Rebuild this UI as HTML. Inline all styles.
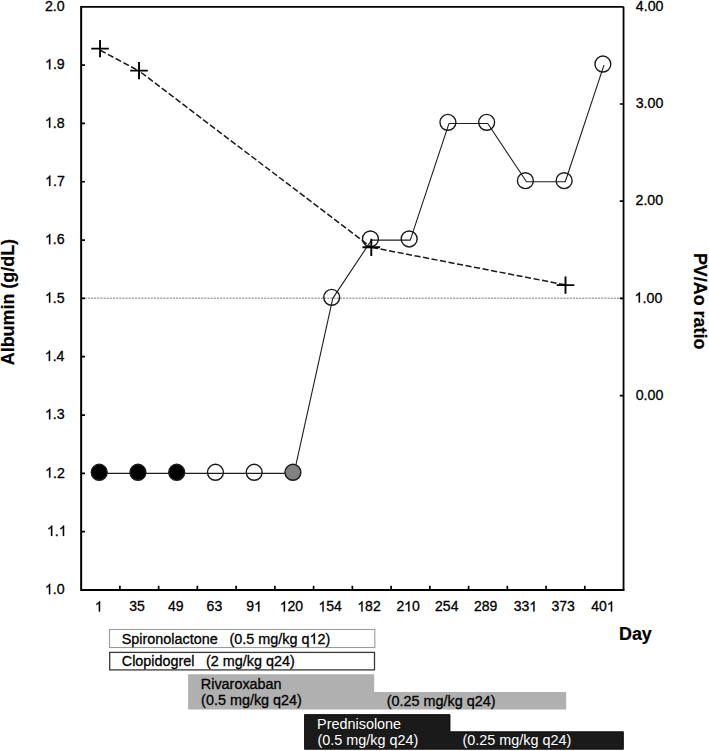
<!DOCTYPE html><html><head><meta charset="utf-8"><style>html,body{margin:0;padding:0;background:#fff;width:709px;height:751px;overflow:hidden}svg{display:block;font-family:"Liberation Sans",sans-serif}</style></head><body>
<svg width="709" height="751" viewBox="0 0 709 751">
<rect width="709" height="751" fill="#fff"/>
<line x1="82.65" y1="298.3" x2="622.05" y2="298.3" stroke="#a6a6a6" stroke-width="1.4" stroke-dasharray="2.1,1.05" stroke-dashoffset="1.2"/>
<path d="M623.55,6.8 V590.0" fill="none" stroke="#000" stroke-width="1.8"/>
<path d="M81.15,6.8 H623.55" fill="none" stroke="#000" stroke-width="1.8"/>
<path d="M81.15,590.0 H624.4499999999999" fill="none" stroke="#000" stroke-width="2.0"/>
<path d="M81.15,5.8999999999999995 V591.0" fill="none" stroke="#000" stroke-width="2.0"/>
<path d="M81.15,531.68 H84.95 M81.15,473.36 H84.95 M81.15,415.04 H84.95 M81.15,356.72 H84.95 M81.15,298.40 H84.95 M81.15,240.08 H84.95 M81.15,181.76 H84.95 M81.15,123.44 H84.95 M81.15,65.12 H84.95 M623.55,104.00 H619.75 M623.55,201.20 H619.75 M623.55,298.40 H619.75 M623.55,395.60 H619.75 M119.89,590.0 V585.8 M158.64,590.0 V585.8 M197.38,590.0 V585.8 M236.12,590.0 V585.8 M274.86,590.0 V585.8 M313.61,590.0 V585.8 M352.35,590.0 V585.8 M391.09,590.0 V585.8 M429.84,590.0 V585.8 M468.58,590.0 V585.8 M507.32,590.0 V585.8 M546.06,590.0 V585.8 M584.81,590.0 V585.8" stroke="#000" stroke-width="1.7" fill="none"/>
<g transform="translate(44.91,594.20) scale(1,1.06)"><text font-size="14.2" font-weight="normal" fill="#000" stroke="#000" stroke-width="0.3"> .0</text><path d="M763,0 L583,0 L583,1147 Q518,1085 412,1023 Q306,961 223,930 L223,1104 Q374,1175 487,1276 Q600,1377 647,1472 L763,1472 Z" transform="translate(0.00,0) scale(0.00693,-0.00664)" fill="#000" stroke="#000" stroke-width="43.3"/></g>
<g transform="translate(46.97,535.88) scale(1,1.06)"><text font-size="14.2" font-weight="normal" fill="#000" stroke="#000" stroke-width="0.3"> . </text><path d="M763,0 L583,0 L583,1147 Q518,1085 412,1023 Q306,961 223,930 L223,1104 Q374,1175 487,1276 Q600,1377 647,1472 L763,1472 Z" transform="translate(0.00,0) scale(0.00693,-0.00664)" fill="#000" stroke="#000" stroke-width="43.3"/><path d="M763,0 L583,0 L583,1147 Q518,1085 412,1023 Q306,961 223,930 L223,1104 Q374,1175 487,1276 Q600,1377 647,1472 L763,1472 Z" transform="translate(11.84,0) scale(0.00693,-0.00664)" fill="#000" stroke="#000" stroke-width="43.3"/></g>
<g transform="translate(45.07,477.56) scale(1,1.06)"><text font-size="14.2" font-weight="normal" fill="#000" stroke="#000" stroke-width="0.3"> .2</text><path d="M763,0 L583,0 L583,1147 Q518,1085 412,1023 Q306,961 223,930 L223,1104 Q374,1175 487,1276 Q600,1377 647,1472 L763,1472 Z" transform="translate(0.00,0) scale(0.00693,-0.00664)" fill="#000" stroke="#000" stroke-width="43.3"/></g>
<g transform="translate(44.98,419.24) scale(1,1.06)"><text font-size="14.2" font-weight="normal" fill="#000" stroke="#000" stroke-width="0.3"> .3</text><path d="M763,0 L583,0 L583,1147 Q518,1085 412,1023 Q306,961 223,930 L223,1104 Q374,1175 487,1276 Q600,1377 647,1472 L763,1472 Z" transform="translate(0.00,0) scale(0.00693,-0.00664)" fill="#000" stroke="#000" stroke-width="43.3"/></g>
<g transform="translate(44.78,360.92) scale(1,1.06)"><text font-size="14.2" font-weight="normal" fill="#000" stroke="#000" stroke-width="0.3"> .4</text><path d="M763,0 L583,0 L583,1147 Q518,1085 412,1023 Q306,961 223,930 L223,1104 Q374,1175 487,1276 Q600,1377 647,1472 L763,1472 Z" transform="translate(0.00,0) scale(0.00693,-0.00664)" fill="#000" stroke="#000" stroke-width="43.3"/></g>
<g transform="translate(44.96,302.60) scale(1,1.06)"><text font-size="14.2" font-weight="normal" fill="#000" stroke="#000" stroke-width="0.3"> .5</text><path d="M763,0 L583,0 L583,1147 Q518,1085 412,1023 Q306,961 223,930 L223,1104 Q374,1175 487,1276 Q600,1377 647,1472 L763,1472 Z" transform="translate(0.00,0) scale(0.00693,-0.00664)" fill="#000" stroke="#000" stroke-width="43.3"/></g>
<g transform="translate(44.98,244.28) scale(1,1.06)"><text font-size="14.2" font-weight="normal" fill="#000" stroke="#000" stroke-width="0.3"> .6</text><path d="M763,0 L583,0 L583,1147 Q518,1085 412,1023 Q306,961 223,930 L223,1104 Q374,1175 487,1276 Q600,1377 647,1472 L763,1472 Z" transform="translate(0.00,0) scale(0.00693,-0.00664)" fill="#000" stroke="#000" stroke-width="43.3"/></g>
<g transform="translate(45.07,185.96) scale(1,1.06)"><text font-size="14.2" font-weight="normal" fill="#000" stroke="#000" stroke-width="0.3"> .7</text><path d="M763,0 L583,0 L583,1147 Q518,1085 412,1023 Q306,961 223,930 L223,1104 Q374,1175 487,1276 Q600,1377 647,1472 L763,1472 Z" transform="translate(0.00,0) scale(0.00693,-0.00664)" fill="#000" stroke="#000" stroke-width="43.3"/></g>
<g transform="translate(44.98,127.64) scale(1,1.06)"><text font-size="14.2" font-weight="normal" fill="#000" stroke="#000" stroke-width="0.3"> .8</text><path d="M763,0 L583,0 L583,1147 Q518,1085 412,1023 Q306,961 223,930 L223,1104 Q374,1175 487,1276 Q600,1377 647,1472 L763,1472 Z" transform="translate(0.00,0) scale(0.00693,-0.00664)" fill="#000" stroke="#000" stroke-width="43.3"/></g>
<g transform="translate(45.03,69.32) scale(1,1.06)"><text font-size="14.2" font-weight="normal" fill="#000" stroke="#000" stroke-width="0.3"> .9</text><path d="M763,0 L583,0 L583,1147 Q518,1085 412,1023 Q306,961 223,930 L223,1104 Q374,1175 487,1276 Q600,1377 647,1472 L763,1472 Z" transform="translate(0.00,0) scale(0.00693,-0.00664)" fill="#000" stroke="#000" stroke-width="43.3"/></g>
<g transform="translate(44.91,10.70) scale(1,1.06)"><text font-size="14.2" font-weight="normal" fill="#000" stroke="#000" stroke-width="0.3">2.0</text></g>
<g transform="translate(635.87,10.70) scale(1,1.06)"><text font-size="14.2" font-weight="normal" fill="#000" stroke="#000" stroke-width="0.3">4.00</text></g>
<g transform="translate(635.66,108.20) scale(1,1.06)"><text font-size="14.2" font-weight="normal" fill="#000" stroke="#000" stroke-width="0.3">3.00</text></g>
<g transform="translate(635.49,205.40) scale(1,1.06)"><text font-size="14.2" font-weight="normal" fill="#000" stroke="#000" stroke-width="0.3">2.00</text></g>
<g transform="translate(634.65,302.60) scale(1,1.06)"><text font-size="14.2" font-weight="normal" fill="#000" stroke="#000" stroke-width="0.3"> .00</text><path d="M763,0 L583,0 L583,1147 Q518,1085 412,1023 Q306,961 223,930 L223,1104 Q374,1175 487,1276 Q600,1377 647,1472 L763,1472 Z" transform="translate(0.00,0) scale(0.00693,-0.00664)" fill="#000" stroke="#000" stroke-width="43.3"/></g>
<g transform="translate(635.65,399.80) scale(1,1.06)"><text font-size="14.2" font-weight="normal" fill="#000" stroke="#000" stroke-width="0.3">0.00</text></g>
<g transform="translate(94.85,611.40) scale(1,1.06)"><text font-size="14.0" font-weight="normal" fill="#000" stroke="#000" stroke-width="0.3"> </text><path d="M763,0 L583,0 L583,1147 Q518,1085 412,1023 Q306,961 223,930 L223,1104 Q374,1175 487,1276 Q600,1377 647,1472 L763,1472 Z" transform="translate(0.00,0) scale(0.00684,-0.00654)" fill="#000" stroke="#000" stroke-width="43.9"/></g>
<g transform="translate(129.21,611.40) scale(1,1.06)"><text font-size="14.0" font-weight="normal" fill="#000" stroke="#000" stroke-width="0.3">35</text></g>
<g transform="translate(168.09,611.40) scale(1,1.06)"><text font-size="14.0" font-weight="normal" fill="#000" stroke="#000" stroke-width="0.3">49</text></g>
<g transform="translate(206.62,611.40) scale(1,1.06)"><text font-size="14.0" font-weight="normal" fill="#000" stroke="#000" stroke-width="0.3">63</text></g>
<g transform="translate(246.36,611.40) scale(1,1.06)"><text font-size="14.0" font-weight="normal" fill="#000" stroke="#000" stroke-width="0.3">9 </text><path d="M763,0 L583,0 L583,1147 Q518,1085 412,1023 Q306,961 223,930 L223,1104 Q374,1175 487,1276 Q600,1377 647,1472 L763,1472 Z" transform="translate(7.79,0) scale(0.00684,-0.00654)" fill="#000" stroke="#000" stroke-width="43.9"/></g>
<g transform="translate(279.77,611.40) scale(1,1.06)"><text font-size="14.0" font-weight="normal" fill="#000" stroke="#000" stroke-width="0.3"> 20</text><path d="M763,0 L583,0 L583,1147 Q518,1085 412,1023 Q306,961 223,930 L223,1104 Q374,1175 487,1276 Q600,1377 647,1472 L763,1472 Z" transform="translate(0.00,0) scale(0.00684,-0.00654)" fill="#000" stroke="#000" stroke-width="43.9"/></g>
<g transform="translate(318.44,611.40) scale(1,1.06)"><text font-size="14.0" font-weight="normal" fill="#000" stroke="#000" stroke-width="0.3"> 54</text><path d="M763,0 L583,0 L583,1147 Q518,1085 412,1023 Q306,961 223,930 L223,1104 Q374,1175 487,1276 Q600,1377 647,1472 L763,1472 Z" transform="translate(0.00,0) scale(0.00684,-0.00654)" fill="#000" stroke="#000" stroke-width="43.9"/></g>
<g transform="translate(357.33,611.40) scale(1,1.06)"><text font-size="14.0" font-weight="normal" fill="#000" stroke="#000" stroke-width="0.3"> 82</text><path d="M763,0 L583,0 L583,1147 Q518,1085 412,1023 Q306,961 223,930 L223,1104 Q374,1175 487,1276 Q600,1377 647,1472 L763,1472 Z" transform="translate(0.00,0) scale(0.00684,-0.00654)" fill="#000" stroke="#000" stroke-width="43.9"/></g>
<g transform="translate(396.41,611.40) scale(1,1.06)"><text font-size="14.0" font-weight="normal" fill="#000" stroke="#000" stroke-width="0.3">2 0</text><path d="M763,0 L583,0 L583,1147 Q518,1085 412,1023 Q306,961 223,930 L223,1104 Q374,1175 487,1276 Q600,1377 647,1472 L763,1472 Z" transform="translate(7.79,0) scale(0.00684,-0.00654)" fill="#000" stroke="#000" stroke-width="43.9"/></g>
<g transform="translate(435.08,611.40) scale(1,1.06)"><text font-size="14.0" font-weight="normal" fill="#000" stroke="#000" stroke-width="0.3">254</text></g>
<g transform="translate(473.95,611.40) scale(1,1.06)"><text font-size="14.0" font-weight="normal" fill="#000" stroke="#000" stroke-width="0.3">289</text></g>
<g transform="translate(513.73,611.40) scale(1,1.06)"><text font-size="14.0" font-weight="normal" fill="#000" stroke="#000" stroke-width="0.3">33 </text><path d="M763,0 L583,0 L583,1147 Q518,1085 412,1023 Q306,961 223,930 L223,1104 Q374,1175 487,1276 Q600,1377 647,1472 L763,1472 Z" transform="translate(15.57,0) scale(0.00684,-0.00654)" fill="#000" stroke="#000" stroke-width="43.9"/></g>
<g transform="translate(551.50,611.40) scale(1,1.06)"><text font-size="14.0" font-weight="normal" fill="#000" stroke="#000" stroke-width="0.3">373</text></g>
<g transform="translate(591.32,611.40) scale(1,1.06)"><text font-size="14.0" font-weight="normal" fill="#000" stroke="#000" stroke-width="0.3">40 </text><path d="M763,0 L583,0 L583,1147 Q518,1085 412,1023 Q306,961 223,930 L223,1104 Q374,1175 487,1276 Q600,1377 647,1472 L763,1472 Z" transform="translate(15.57,0) scale(0.00684,-0.00654)" fill="#000" stroke="#000" stroke-width="43.9"/></g>
<g transform="translate(619.00,639.80) scale(1,1.06)"><text font-size="17.9" font-weight="bold" fill="#000" stroke="#000" stroke-width="0.2">Day</text></g>
<text transform="translate(14.10,302.30) rotate(-90) scale(1,1.06)" x="-62.91" y="0" font-size="17.9" font-weight="bold" fill="#000" stroke="#000" stroke-width="0.2">Albumin (g/dL)</text>
<text transform="translate(694.30,301.40) rotate(90) scale(1,1.06)" x="-48.49" y="0" font-size="17.9" font-weight="bold" fill="#000" stroke="#000" stroke-width="0.2">PV/Ao ratio</text>
<polyline points="100.32,473.36 139.06,473.36 177.81,473.36 216.55,473.36 255.29,473.36 294.04,473.36 332.78,298.40 371.52,240.08 410.26,240.08 449.01,123.44 487.75,123.44 526.49,181.76 565.24,181.76 603.98,65.12" fill="none" stroke="#1e1e1e" stroke-width="1.1" stroke-linejoin="round"/>
<line x1="100.05" y1="50.2" x2="139.0" y2="70.9" stroke="#1a1a1a" stroke-width="1.5" stroke-dasharray="6.15,2.62" stroke-dashoffset="8.65"/>
<line x1="139.0" y1="70.9" x2="371.3" y2="247.3" stroke="#1a1a1a" stroke-width="1.5" stroke-dasharray="6.15,2.51" stroke-dashoffset="6.05"/>
<line x1="371.3" y1="247.3" x2="565.5" y2="284.9" stroke="#1a1a1a" stroke-width="1.5" stroke-dasharray="6.15,2.51" stroke-dashoffset="7.95"/>
<circle cx="99.22" cy="472.26" r="7.95" fill="#000" stroke="#1a1a1a" stroke-width="1.4"/>
<circle cx="137.96" cy="472.26" r="7.95" fill="#000" stroke="#1a1a1a" stroke-width="1.4"/>
<circle cx="176.71" cy="472.26" r="7.95" fill="#000" stroke="#1a1a1a" stroke-width="1.4"/>
<circle cx="215.45" cy="472.26" r="7.95" fill="none" stroke="#1a1a1a" stroke-width="1.4"/>
<circle cx="254.19" cy="472.26" r="7.95" fill="none" stroke="#1a1a1a" stroke-width="1.4"/>
<circle cx="292.94" cy="472.26" r="7.95" fill="#818181" stroke="#1a1a1a" stroke-width="1.4"/>
<circle cx="331.68" cy="297.30" r="7.95" fill="none" stroke="#1a1a1a" stroke-width="1.4"/>
<circle cx="370.42" cy="238.98" r="7.95" fill="none" stroke="#1a1a1a" stroke-width="1.4"/>
<circle cx="409.16" cy="238.98" r="7.95" fill="none" stroke="#1a1a1a" stroke-width="1.4"/>
<circle cx="447.91" cy="122.34" r="7.95" fill="none" stroke="#1a1a1a" stroke-width="1.4"/>
<circle cx="486.65" cy="122.34" r="7.95" fill="none" stroke="#1a1a1a" stroke-width="1.4"/>
<circle cx="525.39" cy="180.66" r="7.95" fill="none" stroke="#1a1a1a" stroke-width="1.4"/>
<circle cx="564.14" cy="180.66" r="7.95" fill="none" stroke="#1a1a1a" stroke-width="1.4"/>
<circle cx="602.88" cy="64.02" r="7.95" fill="none" stroke="#1a1a1a" stroke-width="1.4"/>
<path d="M91.25,48.6 H108.85 M100.05,40.00 V57.20 M130.20,70.6 H147.80 M139.0,62.00 V79.20 M362.50,247.3 H380.10 M371.3,238.70 V255.90 M556.70,285.1 H574.30 M565.5,276.50 V293.70" stroke="#000" stroke-width="1.9" fill="none"/>
<rect x="109.5" y="629.5" width="265.3" height="18" fill="#fff" stroke="#9a9a9a" stroke-width="1.1"/>
<rect x="109.7" y="652.4" width="264.8" height="17.5" fill="#fff" stroke="#383838" stroke-width="1.3"/>
<path d="M188.1,674.2 H374.2 V691.9 H566.2 V709.5 H188.1 Z" fill="#b0b0b0"/>
<path d="M304.5,714.6 H450 V731.7 H623.4 V749.3 H304.5 Z" fill="#1a1a1a" stroke="#000" stroke-width="0.8"/>
<g transform="translate(121.75,643.80) scale(1,1.06)"><text font-size="14.4" font-weight="normal" fill="#000" stroke="#000" stroke-width="0.3">Spironolactone</text></g>
<g transform="translate(229.51,643.80) scale(1,1.06)"><text font-size="14.4" font-weight="normal" fill="#000" stroke="#000" stroke-width="0.3">(0.5 mg/kg q 2)</text><path d="M763,0 L583,0 L583,1147 Q518,1085 412,1023 Q306,961 223,930 L223,1104 Q374,1175 487,1276 Q600,1377 647,1472 L763,1472 Z" transform="translate(80.04,0) scale(0.00703,-0.00673)" fill="#000" stroke="#000" stroke-width="42.7"/></g>
<g transform="translate(121.77,666.00) scale(1,1.06)"><text font-size="14.4" font-weight="normal" fill="#000" stroke="#000" stroke-width="0.3">Clopidogrel</text></g>
<g transform="translate(206.01,666.00) scale(1,1.06)"><text font-size="14.4" font-weight="normal" fill="#000" stroke="#000" stroke-width="0.3">(2 mg/kg q24)</text></g>
<g transform="translate(200.82,688.80) scale(1,1.06)"><text font-size="14.4" font-weight="normal" fill="#000" stroke="#000" stroke-width="0.3">Rivaroxaban</text></g>
<g transform="translate(201.11,705.10) scale(1,1.06)"><text font-size="14.4" font-weight="normal" fill="#000" stroke="#000" stroke-width="0.3">(0.5 mg/kg q24)</text></g>
<g transform="translate(386.81,705.60) scale(1,1.06)"><text font-size="14.4" font-weight="normal" fill="#000" stroke="#000" stroke-width="0.3">(0.25 mg/kg q24)</text></g>
<g transform="translate(317.12,728.90) scale(1,1.06)"><text font-size="14.4" font-weight="normal" fill="#fff" stroke="#fff" stroke-width="0">Prednisolone</text></g>
<g transform="translate(317.41,745.00) scale(1,1.06)"><text font-size="14.4" font-weight="normal" fill="#fff" stroke="#fff" stroke-width="0">(0.5 mg/kg q24)</text></g>
<g transform="translate(462.41,745.40) scale(1,1.06)"><text font-size="14.4" font-weight="normal" fill="#fff" stroke="#fff" stroke-width="0">(0.25 mg/kg q24)</text></g>
</svg></body></html>
